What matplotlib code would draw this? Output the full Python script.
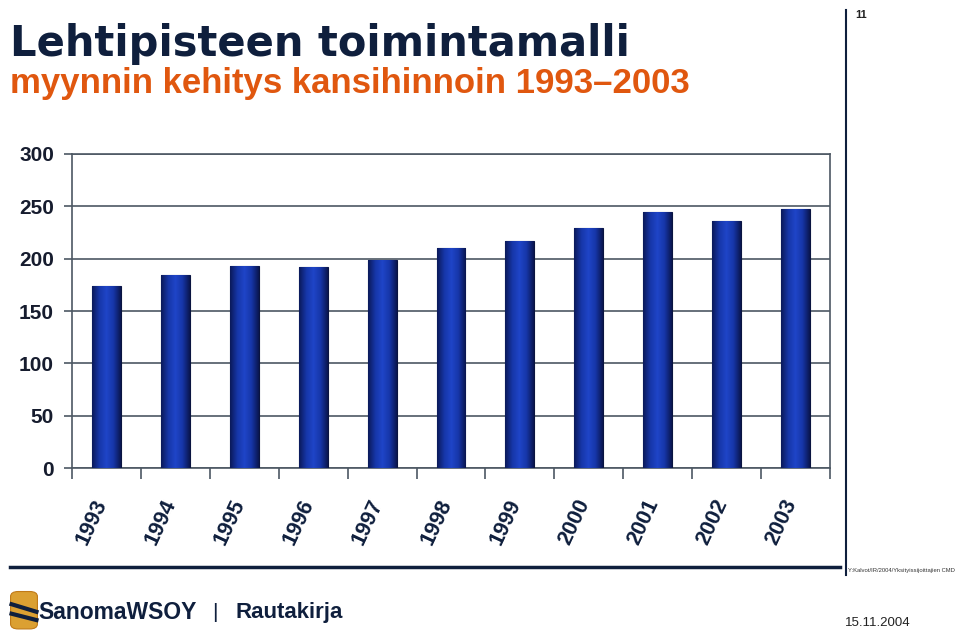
import numpy as np
import matplotlib.pyplot as plt
import matplotlib.transforms as mtransforms
from matplotlib.colors import LinearSegmentedColormap
from matplotlib.patches import FancyBboxPatch

plt.rcParams['font.family'] = ['Liberation Sans', 'DejaVu Sans']

# data
years = ['1993', '1994', '1995', '1996', '1997', '1998', '1999', '2000', '2001', '2002', '2003']
sales = [174, 184, 193, 192, 199, 210, 217, 229, 245, 236, 247]
yticks = [0, 50, 100, 150, 200, 250, 300]

navy = '#0f1f3d'
orange = '#e0570f'
gridc = '#4d5863'

fig = plt.figure(figsize=(9.6, 6.34), dpi=100)
ax = fig.add_axes([0.075, 0.2618, 0.7896, 0.4953])

x = np.arange(len(years))
bars = ax.bar(x, sales, width=0.42, color='#102a8c', edgecolor='#0a1440', linewidth=0.8, zorder=3)

# gradient fill for the bars (dark edges, bright middle)
cmap = LinearSegmentedColormap.from_list('bar', ['#0b1a5a', '#1636a8', '#1f45c8', '#1636a8', '#0a1650'])
grad = np.linspace(0, 1, 64).reshape(1, -1)
for b in bars:
    bx, by = b.get_x(), b.get_y()
    im = ax.imshow(grad, cmap=cmap, aspect='auto', extent=[bx, bx + b.get_width(), by, by + b.get_height()],
                   zorder=3.5, interpolation='bilinear')
    im.set_clip_path(b)

ax.set_xlim(-0.5, len(years) - 0.5)
ax.set_ylim(0, 300)
ax.set_yticks(yticks)
ax.set_yticklabels([str(v) for v in yticks], fontsize=15, fontweight='bold', color='#161c2e')
ax.yaxis.grid(True, color=gridc, linewidth=1.2, zorder=0)
ax.tick_params(axis='y', length=6, color=gridc, width=1.2, pad=7)

ax.set_xticks(x)
ax.set_xticklabels(years, rotation=65, fontsize=15.5, fontweight='bold', color=navy,
                   ha='right', va='top')
ax.tick_params(axis='x', length=0, pad=20)
shift = mtransforms.ScaledTranslation(5 / 100, 0, fig.dpi_scale_trans)
for lbl in ax.get_xticklabels():
    lbl.set_transform(lbl.get_transform() + shift)
ax.set_xticks(np.arange(-0.5, len(years)), minor=True)
ax.tick_params(axis='x', which='minor', length=8, color=gridc, width=1.2)

for s in ax.spines.values():
    s.set_color(gridc)
    s.set_linewidth(1.2)

# title block
fig.text(0.010, 0.912, 'Lehtipisteen toimintamalli', fontsize=30, fontweight='bold', color=navy,
         family=['DejaVu Sans'])
fig.text(0.010, 0.853, 'myynnin kehitys kansihinnoin 1993\u20132003', fontsize=25, fontweight='bold', color=orange)
fig.text(0.891, 0.972, '11', fontsize=8, fontweight='bold', color='#222222')

# frame lines
fig.add_artist(plt.Line2D([0.881, 0.881], [0.093, 0.985], color=navy, linewidth=1.5))
fig.add_artist(plt.Line2D([0.010, 0.875], [0.105, 0.105], color=navy, linewidth=2.5))

# footer
fig.text(0.883, 0.098, 'Y:Kalvot/IR/2004/Yksityissijoittajien CMD', fontsize=4.2, color='#333333')
logo = FancyBboxPatch((0.013, 0.01), 0.024, 0.055, boxstyle='round,pad=0.002,rounding_size=0.008',
                      transform=fig.transFigure, facecolor='#dba032', edgecolor='#c07a18', linewidth=0.8)
fig.add_artist(logo)
fig.add_artist(plt.Line2D([0.012, 0.038], [0.047, 0.035], color=navy, linewidth=3))
fig.add_artist(plt.Line2D([0.012, 0.038], [0.032, 0.022], color=navy, linewidth=3))
fig.text(0.040, 0.024, 'SanomaWSOY', fontsize=16.5, fontweight='bold', color=navy)
fig.text(0.221, 0.026, '|', fontsize=15, color=navy)
fig.text(0.245, 0.026, 'Rautakirja', fontsize=16, fontweight='bold', color=navy)
fig.text(0.880, 0.013, '15.11.2004', fontsize=9.5, color='#222222')

fig.savefig('out.png', dpi=100)
